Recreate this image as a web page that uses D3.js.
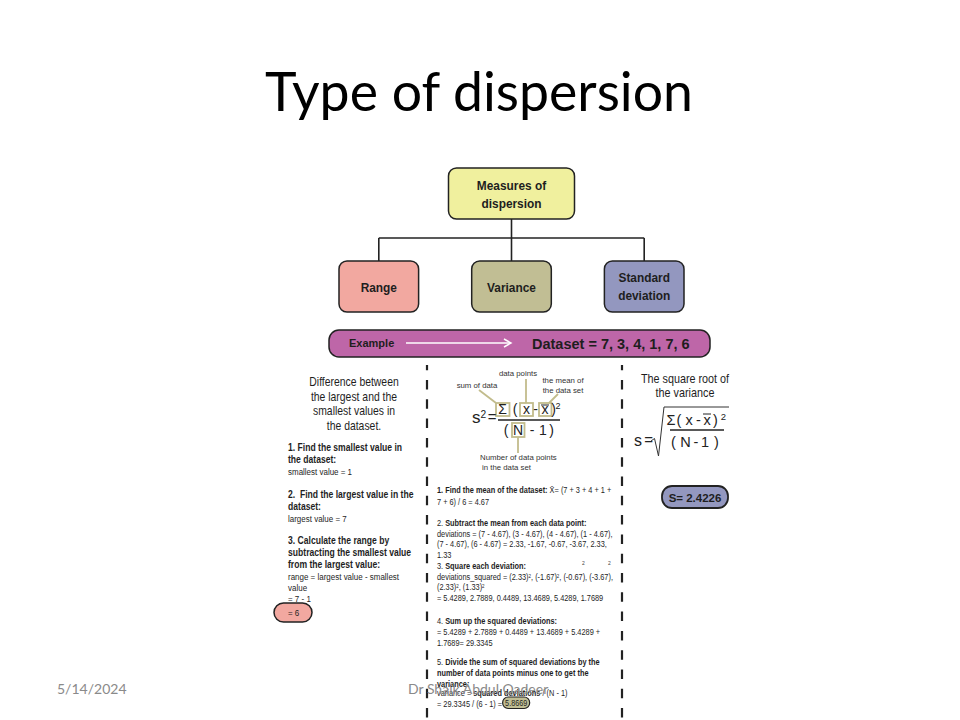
<!DOCTYPE html>
<html>
<head>
<meta charset="utf-8">
<script src="https://cdn.jsdelivr.net/npm/d3@7"></script>
<style>
  body { margin: 0; background: #fff; }
  svg { display: block; }
</style>
</head>
<body>
<div id="slide"></div>
<script>
// values
var dataset = [7, 3, 4, 1, 7, 6];
var mean = "4.67";
var deviations = ["2.33", "-1.67", "-0.67", "-3.67", "2.33", "1.33"];
var squaredDev = ["5.4289", "2.7889", "0.4489", "13.4689", "5.4289", "1.7689"];
var sumSquared = "29.3345";
var variance = "5.8669";
var stdDev = "2.4226";
var smallest = 1, largest = 7, range = 6;
var measures = [["Range"], ["Variance"], ["Standard", "deviation"]];
var measureColors = ["#f2a8a0", "#c1be94", "#9397bf"];

var W = 960, H = 720;
var svg = d3.select("#slide").append("svg")
  .attr("width", W)
  .attr("height", H);

var SANS = "'Liberation Sans', Arial, Helvetica, sans-serif";
var INK = "#1e1e1e";

// little helper: text made of parts, [string, style]
function txt(g, x, y, parts, o) {
  o = o || {};
  if (typeof parts === "string") parts = [[parts]];
  var t = g.append("text")
    .attr("transform", "translate(" + x + "," + y + ") scale(" + (o.sx || 1) + ",1)")
    .attr("font-family", o.family || SANS)
    .attr("font-size", o.size || 10)
    .attr("font-weight", o.weight || "normal")
    .attr("fill", o.fill || INK)
    .attr("text-anchor", o.anchor || "start")
    .style("white-space", "pre");
  parts.forEach(function(p) {
    var s = t.append("tspan").text(p[0]);
    if (p[1] === "b") s.attr("font-weight", "bold");
    if (p[1] === "sup") s.attr("font-size", (o.size || 10) * 0.6).attr("baseline-shift", "super");
  });
  return t;
}

// title
svg.append("text")
  .attr("x", 479)
  .attr("y", 111)
  .attr("text-anchor", "middle")
  .attr("font-family", "Lato, 'Open Sans', sans-serif")
  .attr("font-size", 55)
  .attr("textLength", 428)
  .attr("lengthAdjust", "spacingAndGlyphs")
  .attr("fill", "#000")
  .text("Type of dispersion");

// tree of measures
var x = d3.scaleBand()
  .domain(measures.map(function(d) { return d.join(" "); }))
  .range([339, 684])
  .paddingInner(0.4);

var tree = svg.append("g");
var cx = function(d) { return x(d.join(" ")) + x.bandwidth() / 2; };

tree.append("line")
  .attr("x1", cx(measures[0])).attr("x2", cx(measures[2]))
  .attr("y1", 238).attr("y2", 238)
  .attr("stroke", "#222").attr("stroke-width", 1.6);
tree.append("line")
  .attr("x1", cx(measures[1])).attr("x2", cx(measures[1]))
  .attr("y1", 219).attr("y2", 238)
  .attr("stroke", "#222").attr("stroke-width", 1.6);
tree.selectAll(".drop")
  .data(measures)
  .enter().append("line")
    .attr("x1", cx).attr("x2", cx)
    .attr("y1", 238).attr("y2", 261)
    .attr("stroke", "#222").attr("stroke-width", 1.6);

tree.append("rect")
  .attr("x", cx(measures[1]) - 63).attr("y", 168)
  .attr("width", 126).attr("height", 51)
  .attr("rx", 8)
  .attr("fill", "#f0f09e").attr("stroke", "#222").attr("stroke-width", 1.5);
txt(tree, cx(measures[1]), 190, "Measures of", {size: 13.5, weight: "bold", anchor: "middle", sx: 0.88});
txt(tree, cx(measures[1]), 208, "dispersion", {size: 13.5, weight: "bold", anchor: "middle", sx: 0.88});

tree.selectAll(".box")
  .data(measures)
  .enter().append("rect")
    .attr("x", function(d) { return x(d.join(" ")); })
    .attr("y", 261)
    .attr("width", x.bandwidth())
    .attr("height", 51)
    .attr("rx", 8)
    .attr("fill", function(d, i) { return measureColors[i]; })
    .attr("stroke", "#222").attr("stroke-width", 1.5);
measures.forEach(function(d) {
  var y0 = d.length === 1 ? 291.5 : 282;
  d.forEach(function(line, j) {
    txt(tree, cx(d), y0 + j * 18, line, {size: 13.5, weight: "bold", anchor: "middle", sx: 0.88});
  });
});

// example banner
tree.append("rect")
  .attr("x", 329).attr("y", 330)
  .attr("width", 381).attr("height", 27)
  .attr("rx", 10)
  .attr("fill", "#be66a8").attr("stroke", "#222").attr("stroke-width", 1.5);
txt(tree, 349, 347, "Example", {size: 11, weight: "bold"});
tree.append("line")
  .attr("x1", 406).attr("x2", 510).attr("y1", 343).attr("y2", 343)
  .attr("stroke", "#fff").attr("stroke-width", 1.5);
tree.append("path")
  .attr("d", "M504,339 L511,343 L504,347")
  .attr("fill", "none").attr("stroke", "#fff").attr("stroke-width", 1.5);
txt(tree, 532, 348.5, "Dataset = " + dataset.join(", "), {size: 14.5, weight: "bold"});

// dashed separators
svg.append("clipPath").attr("id", "colclip")
  .append("rect").attr("x", 0).attr("y", 365).attr("width", W).attr("height", H - 365);
[427, 622].forEach(function(xx) {
  svg.append("line")
    .attr("x1", xx).attr("x2", xx)
    .attr("y1", 360.7).attr("y2", 720)
    .attr("stroke", "#222").attr("stroke-width", 2.2)
    .attr("stroke-dasharray", "9.5,9.8")
    .attr("clip-path", "url(#colclip)");
});

// ---- range column
var left = svg.append("g");
["Difference between", "the largest and the", "smallest values in", "the dataset."]
  .forEach(function(s, i) {
    txt(left, 354, 386 + i * 14.6, s, {size: 13, anchor: "middle", sx: 0.8});
  });
var LB = {size: 10, weight: "bold", sx: 0.86};
var LR = {size: 9.5, sx: 0.84};
txt(left, 288, 451, "1. Find the smallest value in", LB);
txt(left, 288, 463, "the dataset:", LB);
txt(left, 288, 475, "smallest value = " + smallest, LR);
txt(left, 288, 498, "2.\u00a0 Find the largest value in the", LB);
txt(left, 288, 510, "dataset:", LB);
txt(left, 288, 522, "largest value = " + largest, LR);
txt(left, 288, 544, "3. Calculate the range by", LB);
txt(left, 288, 556, "subtracting the smallest value", LB);
txt(left, 288, 568, "from the largest value:", LB);
txt(left, 288, 580, "range = largest value - smallest", LR);
txt(left, 288, 591, "value", LR);
txt(left, 288, 602, "= " + largest + " - " + smallest, LR);
left.append("rect")
  .attr("x", 274).attr("y", 603)
  .attr("width", 38).attr("height", 19)
  .attr("rx", 9.5)
  .attr("fill", "#f2a8a0").attr("stroke", "#222").attr("stroke-width", 1.5);
txt(left, 288, 615.5, "= " + range, LR);

// ---- variance column
var mid = svg.append("g");
var TAN = "#c2bc8c";
var LBL = {size: 7.8, fill: "#333", anchor: "middle"};
txt(mid, 518, 376, "data points", LBL);
txt(mid, 477, 388, "sum of data", LBL);
txt(mid, 563, 383, "the mean of", LBL);
txt(mid, 563, 393, "the data set", LBL);
txt(mid, 480, 460, "Number of data points", {size: 7.8, fill: "#333"});
txt(mid, 482, 470, "in the data set", {size: 7.8, fill: "#333"});

var leaders = [
  [[526, 379], [526, 403]],
  [[479, 390], [496, 403]],
  [[558, 394], [549, 403]],
  [[518, 437], [518, 453]]
];
leaders.forEach(function(l) {
  mid.append("path")
    .attr("d", d3.line()(l))
    .attr("stroke", TAN).attr("stroke-width", 1.8).attr("fill", "none");
});
[[496, 403, 13.5, 13], [520, 403, 13, 13], [539, 403, 12.5, 13], [512, 423, 12.5, 14]]
  .forEach(function(b) {
    mid.append("rect")
      .attr("x", b[0]).attr("y", b[1]).attr("width", b[2]).attr("height", b[3])
      .attr("fill", "#fff").attr("stroke", TAN).attr("stroke-width", 1.8);
  });

var F = {size: 14, fill: "#222", anchor: "middle"};
txt(mid, 479, 423, [["s"], ["2", "sup"]], {size: 17, fill: "#222", anchor: "middle"});
txt(mid, 492, 422, "=", {size: 15, fill: "#222", anchor: "middle"});
txt(mid, 502.5, 414, "\u03A3", F);
txt(mid, 515, 414, "(", F);
txt(mid, 526.5, 414, "x", F);
txt(mid, 535.5, 414, "-", F);
txt(mid, 545, 414, "x", F);
mid.append("line").attr("x1", 541).attr("x2", 549).attr("y1", 405).attr("y2", 405)
  .attr("stroke", "#222").attr("stroke-width", 1);
txt(mid, 553.5, 414, ")", F);
txt(mid, 558, 409, "2", {size: 9, fill: "#222", anchor: "middle"});
mid.append("line").attr("x1", 498).attr("x2", 560).attr("y1", 420).attr("y2", 420)
  .attr("stroke", "#222").attr("stroke-width", 1.5);
txt(mid, 506, 435, "(", F);
txt(mid, 518, 435, "N", F);
txt(mid, 532, 435, "-", F);
txt(mid, 543, 435, "1", F);
txt(mid, 551.5, 435, ")", F);

var MB = {size: 9, sx: 0.82};
var mx = 437;
var devPairs = dataset.map(function(v) { return "(" + v + " - " + mean + ")"; });
var midLines = [
  [493, [["1. Find the mean of the dataset: ", "b"], ["X\u0304= (" + dataset.slice(0, 4).join(" + ") + " +"]]],
  [505, [[dataset.slice(4).join(" + ") + ") / " + dataset.length + " = " + mean]]],
  [526, [["2. "], ["Subtract the mean from each data point:", "b"]]],
  [537, [["deviations = " + devPairs.slice(0, 4).join(", ") + ","]]],
  [547, [[devPairs.slice(4).join(", ") + " = " + deviations.slice(0, 5).join(", ") + ","]]],
  [558, [[deviations[5]]]],
  [569, [["3. "], ["Square each deviation:", "b"]]],
  [580, [["deviations_squared = (" + deviations[0] + ")"], ["2", "sup"], [", (" + deviations[1] + ")"], ["2", "sup"],
         [", (" + deviations[2] + "), (" + deviations[3] + "),"]]],
  [590, [["(" + deviations[4] + ")"], ["2", "sup"], [", (" + deviations[5] + ")"], ["2", "sup"]]],
  [601, [["= " + squaredDev.join(", ")]]],
  [624, [["4. "], ["Sum up the squared deviations:", "b"]]],
  [635, [["= " + squaredDev.slice(0, 5).join(" + ") + " +"]]],
  [646, [[squaredDev[5] + "= " + sumSquared]]],
  [665, [["5. "], ["Divide the sum of squared deviations by the", "b"]]],
  [676, [["number of data points minus one to get the", "b"]]],
  [687, [["variance:", "b"]]],
  [696, [["variance = "], ["squared deviations", "b"], [" / (N - 1)"]]]
];
midLines.forEach(function(l) { txt(mid, mx, l[0], l[1], MB); });
txt(mid, 582, 565, "2", {size: 5, fill: "#444"});
txt(mid, 608, 565, "2", {size: 5, fill: "#444"});

var last = txt(mid, mx, 707, "= " + sumSquared + " / (" + dataset.length + " - 1) =", MB);
var lastEnd = mx + last.node().getComputedTextLength() * MB.sx;
mid.append("rect")
  .attr("x", lastEnd + 0.5).attr("y", 697)
  .attr("width", 27).attr("height", 11.5)
  .attr("rx", 5.5)
  .attr("fill", "#c1be94").attr("stroke", "#222").attr("stroke-width", 1.2);
txt(mid, lastEnd + 14, 706, variance, {size: 8.5, sx: 0.85, anchor: "middle"});

// ---- standard deviation column
var right = svg.append("g");
txt(right, 685, 383, "The square root of", {size: 12, anchor: "middle", sx: 0.9});
txt(right, 685, 397, "the variance", {size: 12, anchor: "middle", sx: 0.9});
var R = {size: 14.5, fill: "#222", anchor: "middle"};
txt(right, 638, 446, "s", {size: 16, fill: "#222", anchor: "middle"});
txt(right, 648.5, 445, "=", {size: 15, fill: "#222", anchor: "middle"});
right.append("path")
  .attr("d", d3.line()([[651, 441], [654.5, 438.5], [658.5, 456], [664, 407], [729, 407]]))
  .attr("fill", "none").attr("stroke", "#333").attr("stroke-width", 1);
txt(right, 671, 425, "\u03A3", R);
txt(right, 679, 425, "(", R);
txt(right, 689, 425, "x", R);
txt(right, 698.5, 425, "-", R);
txt(right, 707, 425, "x", R);
right.append("line").attr("x1", 703).attr("x2", 711).attr("y1", 414).attr("y2", 414)
  .attr("stroke", "#222").attr("stroke-width", 1);
txt(right, 715.5, 425, ")", R);
txt(right, 723.5, 420, "2", {size: 9.5, fill: "#222", anchor: "middle"});
right.append("line").attr("x1", 670).attr("x2", 724).attr("y1", 430).attr("y2", 430)
  .attr("stroke", "#222").attr("stroke-width", 1.3);
txt(right, 673.5, 447, "(", R);
txt(right, 685.5, 447, "N", R);
txt(right, 696, 447, "-", R);
txt(right, 705, 447, "1", R);
txt(right, 716.5, 447, ")", R);

right.append("rect")
  .attr("x", 662).attr("y", 486)
  .attr("width", 66).attr("height", 22)
  .attr("rx", 10)
  .attr("fill", "#9397bf").attr("stroke", "#222").attr("stroke-width", 1.8);
txt(right, 695, 501.5, "S= " + stdDev, {size: 11.5, weight: "bold", anchor: "middle"});

// ---- footer
var FOOT = {size: 14, fill: "#8a8a8a", family: "Lato, 'Open Sans', sans-serif"};
txt(svg, 57, 694, "5/14/2024", FOOT);
txt(svg, 408, 694, "Dr Shaik Abdul Qadeer", FOOT);
</script>
</body>
</html>
